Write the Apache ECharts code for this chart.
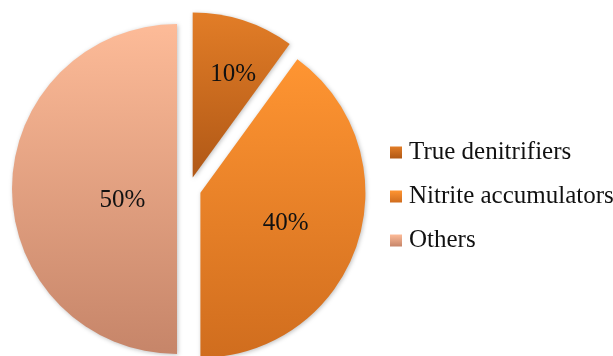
<!DOCTYPE html>
<html>
<head>
<meta charset="utf-8">
<script src="https://cdn.jsdelivr.net/npm/echarts@6/dist/echarts.min.js"></script>
<style>
  html, body { margin: 0; padding: 0; background: #fff; }
  #chart { width: 613px; height: 356px; }
</style>
</head>
<body>
<div id="chart"></div>
<script>
// Share of each group (percent)
const categories = ['True denitrifiers', 'Nitrite accumulators', 'Others'];
const shares = [10, 40, 50];

// Vertical gradient per slice: [top, bottom]
const sliceColors = {
  'True denitrifiers': ['#E27D27', '#B05816'],
  'Nitrite accumulators': ['#FF9532', '#D06D1E'],
  'Others': ['#FDBB98', '#C68569']
};
// Nudges of the value labels away from the slice middle
const labelNudge = {
  'True denitrifiers': [14, -22],
  'Nitrite accumulators': [4, 4],
  'Others': [31, 11]
};

const grad = (c) => new echarts.graphic.LinearGradient(0, 0, 0, 1, [
  { offset: 0, color: c[0] },
  { offset: 1, color: c[1] }
]);

const pieData = categories.map((name, i) => ({
  name: name,
  value: shares[i],
  selected: true,
  itemStyle: { color: grad(sliceColors[name]) }
}));

const chart = echarts.init(document.getElementById('chart'), null, { renderer: 'canvas' });
chart.setOption({
  animation: false,
  backgroundColor: '#ffffff',
  legend: {
    orient: 'vertical',
    left: 390,
    top: 140,
    padding: 0,
    itemWidth: 12,
    itemHeight: 12,
    itemGap: 19,
    icon: 'rect',
    selectedMode: false,
    textStyle: {
      fontFamily: 'Liberation Serif',
      fontSize: 25,
      lineHeight: 25,
      color: '#111',
      padding: [0, 0, 0, 2]
    },
    data: categories
  },
  series: [{
    type: 'pie',
    center: [189, 189],
    radius: [0, 165],
    startAngle: 90,
    clockwise: true,
    selectedMode: 'multiple',
    selectedOffset: 12,
    emphasis: { disabled: true },
    select: { itemStyle: { borderWidth: 0 } },
    itemStyle: {
      borderWidth: 0,
      shadowBlur: 4,
      shadowOffsetX: 1,
      shadowOffsetY: 1,
      shadowColor: 'rgba(0,0,0,0.25)'
    },
    label: {
      show: true,
      position: 'inside',
      formatter: '{c}%',
      fontFamily: 'Liberation Serif',
      fontSize: 25,
      color: '#111'
    },
    labelLine: { show: false },
    labelLayout: (p) => {
      const n = labelNudge[categories[p.dataIndex]];
      return { dx: n[0], dy: n[1] };
    },
    data: pieData
  }]
});
</script>
</body>
</html>
